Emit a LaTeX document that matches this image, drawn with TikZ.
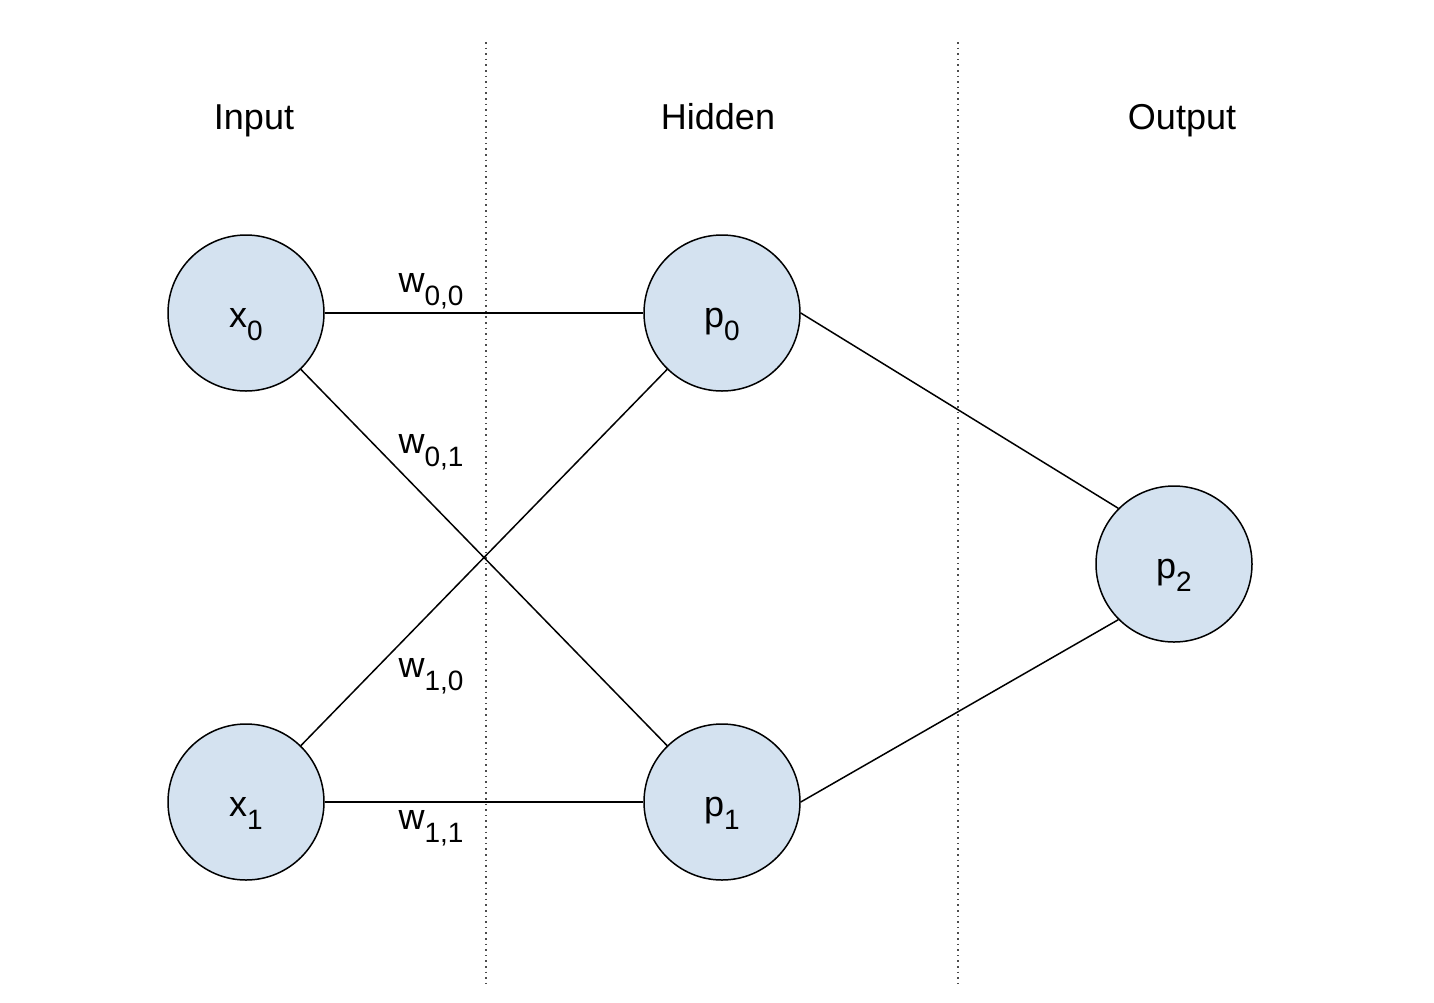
\documentclass[tikz,border=0pt]{standalone}
\usepackage{fontspec}
\setmainfont{Liberation Sans}
\usetikzlibrary{positioning}
\definecolor{cellblue}{HTML}{D4E2F0}
\newcommand{\lowsub}[1]{\raisebox{-6.5pt}{\fontsize{14}{16}\selectfont #1}}

\begin{document}
\begin{tikzpicture}[
  x=0.5pt, y=-0.5pt,
  neuron/.style={draw,circle,fill=cellblue,minimum size=78pt,inner sep=0pt,line width=0.75pt,
    font=\fontsize{18}{22}\selectfont,text height=14pt,text depth=0pt},
  wlabel/.style={font=\fontsize{18}{22}\selectfont,inner sep=0pt,anchor=base},
  layer/.style={font=\fontsize{18}{22}\selectfont,inner sep=0pt,anchor=base},
  divider/.style={dotted,line width=0.8pt,black!70},
  link/.style={line width=0.75pt}
]
\useasboundingbox (0,0) rectangle (1434,1002);
% layer dividers
\coordinate (d1top) at (486,42);
\coordinate (d1bot) at (486,985);
\coordinate (d2top) at (958,42);
\coordinate (d2bot) at (958,985);
\draw[divider] (d1top) -- (d1bot);
\draw[divider] (d2top) -- (d2bot);
% layer titles
\node[layer] (tin) at (254,129) {Input};
\node[layer] (thid) at (718,129) {Hidden};
\node[layer] (tout) at (1182,129) {Output};
% neurons
\node[neuron] (x0) at (246,313) {x\lowsub{0}};
\node[neuron] (x1) at (246,802) {x\lowsub{1}};
\node[neuron] (p0) at (722,313) {p\lowsub{0}};
\node[neuron] (p1) at (722,802) {p\lowsub{1}};
\node[neuron] (p2) at (1174,564) {p\lowsub{2}};
% weights
\path (x0) edge[link] (p0);
\path (x0) edge[link] (p1);
\path (x1) edge[link] (p0);
\path (x1) edge[link] (p1);
\path (p0.east) edge[link] (p2.135);
\path (p1.east) edge[link] (p2.225);
\node[wlabel] (w00) at (431,292) {w\lowsub{0,0}};
\node[wlabel] (w01) at (431,453) {w\lowsub{0,1}};
\node[wlabel] (w10) at (431,677) {w\lowsub{1,0}};
\node[wlabel] (w11) at (431,829) {w\lowsub{1,1}};
\end{tikzpicture}
\end{document}
